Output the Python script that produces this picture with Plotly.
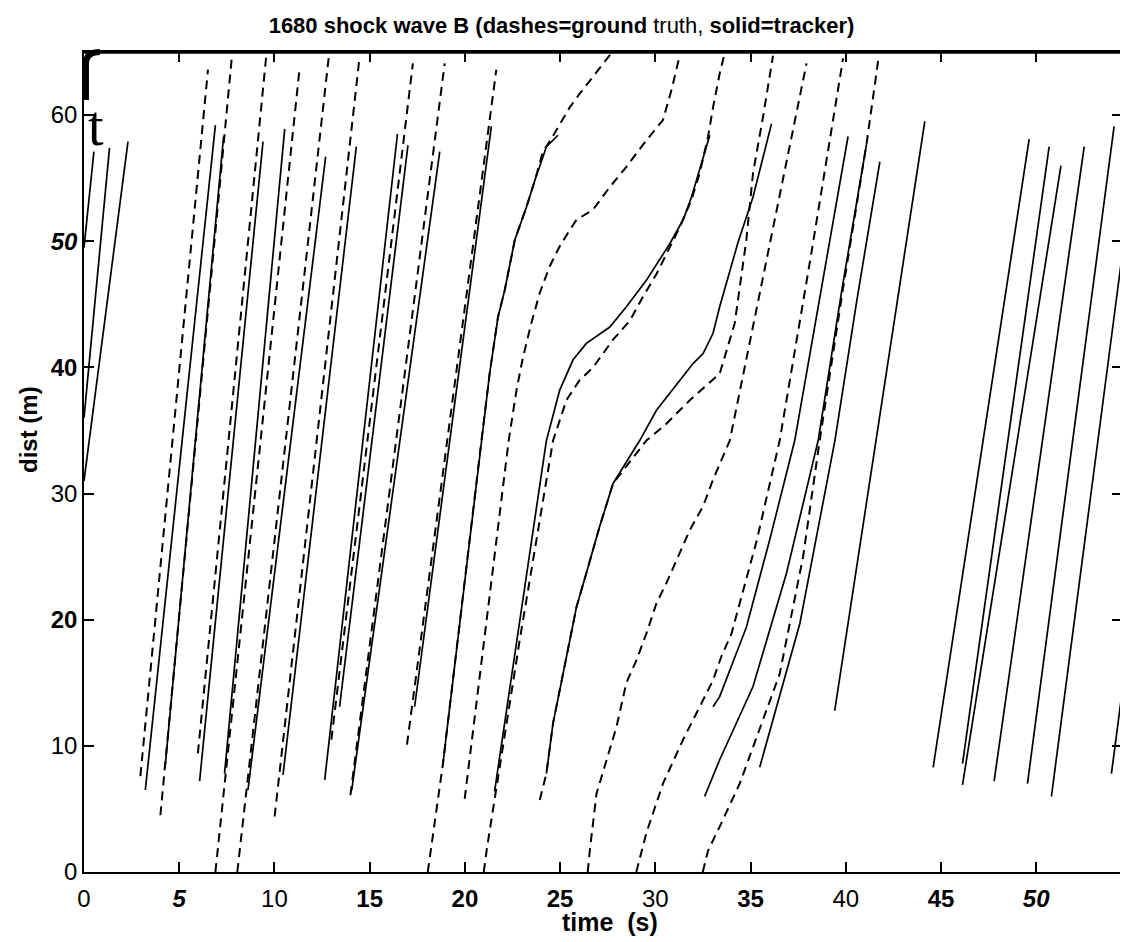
import plotly.graph_objects as go

# ---- text -------------------------------------------------------------
TITLE = "<b>1680 shock wave B (dashes=ground</b> truth, <b>solid=tracker)</b>"
X_LABEL = "<b>time  (s)</b>"
Y_LABEL = "<b>dist (m)</b>"

x_tick_vals = [0, 5, 10, 15, 20, 25, 30, 35, 40, 45, 50]
x_tick_text = ["0", "<b><i>5</i></b>", "10", "<b>15</b>", "<b>20</b>", "<b>25</b>",
               "30", "<b>35</b>", "40", "<b>45</b>", "<b><i>50</i></b>"]
y_tick_vals = [0, 10, 20, 30, 40, 50, 60]
y_tick_text = ["0", "10", "<b>20</b>", "30", "<b>40</b>", "<b><i>50</i></b>", "60"]

X_RANGE = [0, 54.4]
Y_RANGE = [0, 65]

# ---- tracker output (solid); each track is a list of (time s, dist m) ----
tracker_early = [
    [(0.0, 49.5), (0.52, 57.1)],
    [(0.0, 36.0), (1.34, 57.4)],
    [(0.0, 31.0), (2.31, 57.9)],
    [(3.22, 6.5), (6.90, 59.2)],
    [(4.27, 8.5), (7.33, 58.3)],
    [(6.07, 7.2), (9.40, 57.9)],
    [(7.38, 7.8), (10.54, 58.9)],
    [(8.61, 6.5), (12.69, 56.7)],
    [(10.45, 7.7), (14.30, 57.5)],
    [(12.64, 7.3), (16.46, 58.5)],
    [(13.42, 13.1), (17.01, 57.6)],
    [(14.06, 6.5), (18.68, 57.1)],
    [(17.36, 13.1), (21.39, 59.1)],
]

tracker_middle = [
    [(18.85, 8.6), (20.87, 34.2), (21.30, 39.5), (21.74, 44.0), (22.09, 46.1),
     (22.62, 50.1), (23.23, 52.7), (23.67, 54.8), (24.28, 57.5), (24.89, 58.4)],
    [(21.56, 6.4), (24.28, 34.2), (24.98, 38.2), (25.68, 40.6), (26.38, 41.9),
     (27.61, 43.2), (28.48, 44.8), (29.53, 46.9), (30.76, 49.8), (31.46, 51.7),
     (31.90, 53.5), (32.86, 58.4)],
    [(24.28, 7.8), (24.63, 11.8), (24.98, 14.4), (25.33, 17.1), (25.86, 21.0),
     (26.38, 23.7), (27.08, 27.4), (27.78, 30.8), (29.18, 34.2), (30.06, 36.6),
     (31.28, 39.0), (31.98, 40.3), (32.51, 41.1), (33.03, 42.7), (33.38, 44.8),
     (34.34, 49.9), (35.13, 53.5), (36.10, 59.3)],
    [(33.03, 13.1), (33.38, 13.9), (34.78, 19.4), (36.00, 26.3), (37.32, 34.2),
     (38.72, 46.1), (40.12, 58.3)],
    [(32.59, 6.0), (33.38, 8.9), (35.13, 14.7), (36.89, 23.7), (38.55, 34.2),
     (39.79, 46.1), (41.09, 57.7)],
    [(35.48, 8.3), (37.59, 19.7), (39.43, 34.2), (40.58, 45.3), (41.79, 56.3)],
]

tracker_late = [
    [(39.42, 12.8), (44.15, 59.5)],
    [(44.59, 8.3), (49.63, 58.1)],
    [(46.13, 8.6), (50.68, 57.5)],
    [(46.13, 6.9), (51.30, 56.0)],
    [(47.79, 7.2), (52.52, 57.5)],
    [(49.54, 7.0), (54.09, 59.1)],
    [(50.80, 6.0), (55.30, 58.0)],
    [(53.95, 7.8), (58.30, 58.0)],
]

# ---- ground truth (dashed) -------------------------------------------
truth_early = [
    [(2.96, 7.6), (6.51, 63.6)],
    [(4.01, 4.5), (7.77, 64.7)],
    [(5.98, 9.4), (9.57, 64.7)],
    [(6.90, 0.0), (11.32, 63.7)],
    [(8.05, 0.0), (12.86, 64.7)],
    [(10.01, 4.4), (14.47, 64.6)],
    [(12.99, 10.5), (17.27, 64.1)],
    [(13.99, 6.1), (18.94, 64.1)],
    [(16.96, 10.1), (21.65, 63.6)],
]

truth_middle = [
    [(18.05, 0.0), (18.85, 8.6), (20.87, 34.2), (21.30, 39.5), (21.74, 44.0),
     (22.09, 46.1), (22.62, 50.1), (23.23, 52.7), (23.67, 54.8), (24.10, 57.1),
     (24.45, 57.9), (24.98, 59.3), (25.50, 60.6), (26.03, 61.7), (26.72, 63.0),
     (27.69, 64.9)],
    [(19.99, 5.8), (22.30, 34.2), (22.71, 38.2), (23.05, 40.8), (23.49, 43.5),
     (23.93, 45.9), (24.45, 48.0), (24.98, 49.6), (25.51, 50.9), (25.86, 51.7),
     (26.73, 52.5), (27.61, 54.3), (28.48, 55.9), (29.53, 58.0), (30.40, 59.6),
     (30.85, 62.0), (31.28, 64.7)],
    [(20.99, 0.0), (21.16, 1.9), (22.88, 18.4), (24.63, 34.2), (25.33, 37.4),
     (26.03, 39.0), (26.73, 40.0), (27.78, 42.2), (28.66, 43.7), (29.35, 45.6),
     (30.06, 47.4), (30.76, 49.6), (31.28, 51.1), (31.90, 53.3), (32.33, 55.4),
     (32.77, 58.3), (33.03, 60.6), (33.38, 63.3), (33.64, 64.9)],
    [(23.93, 5.7), (24.28, 7.8), (24.63, 11.8), (24.98, 14.4), (25.33, 17.1),
     (25.86, 21.0), (26.38, 23.7), (27.08, 27.4), (27.78, 30.8), (29.53, 34.2),
     (30.49, 35.4), (31.81, 37.4), (33.38, 39.5), (34.17, 43.5), (34.78, 50.1),
     (35.13, 55.4), (35.66, 59.9), (36.18, 64.7)],
    [(26.45, 0.0), (26.56, 1.7), (26.91, 6.2), (27.43, 8.9), (27.96, 11.5),
     (28.48, 15.0), (29.01, 16.8), (29.53, 18.9), (30.06, 21.3), (30.58, 22.9),
     (31.11, 24.7), (31.81, 27.1), (32.51, 29.0), (33.03, 31.1), (33.91, 34.2),
     (35.96, 49.3), (37.94, 64.1)],
    [(29.00, 0.0), (29.53, 3.1), (30.40, 7.0), (31.46, 10.5), (32.33, 13.1),
     (33.03, 15.2), (33.47, 17.1), (34.00, 18.9), (35.33, 26.3), (36.53, 34.2),
     (38.22, 49.3), (39.86, 64.5)],
    [(32.49, 0.0), (32.77, 1.7), (33.38, 3.6), (34.43, 7.0), (36.53, 15.7),
     (37.76, 25.0), (38.63, 34.2), (39.84, 46.1), (41.09, 57.7), (41.70, 64.3)],
]


def joined(tracks):
    """Concatenate tracks into one x/y pair separated by gaps."""
    xs, ys = [], []
    for track in tracks:
        for t, d in track:
            xs.append(t)
            ys.append(d)
        xs.append(None)
        ys.append(None)
    return xs, ys


fig = go.Figure()

solid_x, solid_y = joined(tracker_early + tracker_middle + tracker_late)
fig.add_trace(go.Scatter(x=solid_x, y=solid_y, mode="lines", name="tracker",
                         line=dict(color="black", width=1.7),
                         showlegend=False, hoverinfo="skip"))

dash_x, dash_y = joined(truth_early + truth_middle)
fig.add_trace(go.Scatter(x=dash_x, y=dash_y, mode="lines", name="ground truth",
                         line=dict(color="black", width=2.0, dash="9px,6px"),
                         showlegend=False, hoverinfo="skip"))

# holder trace so the right-hand tick axis is drawn
fig.add_trace(go.Scatter(x=[None], y=[None], yaxis="y2", showlegend=False,
                         hoverinfo="skip"))

tick_font = dict(family="Liberation Sans, Arial, sans-serif", size=24, color="black")

fig.update_layout(
    width=1123, height=942,
    margin=dict(l=84, r=3, t=52, b=70),
    paper_bgcolor="white", plot_bgcolor="white",
    title=dict(text=TITLE, x=0.5, xref="container", xanchor="center",
               y=1 - 25 / 942, yref="container", yanchor="middle",
               font=dict(family="Liberation Sans Narrow, Arial Narrow, Liberation Sans, sans-serif",
                         size=22, color="black")),
    xaxis=dict(range=X_RANGE, tickvals=x_tick_vals, ticktext=x_tick_text,
               ticks="inside", ticklen=10, tickwidth=1.5, tickcolor="black",
               showline=True, linewidth=2, linecolor="black", mirror="ticks",
               showgrid=False, zeroline=False, tickfont=tick_font,
               ticklabelstandoff=4),
    yaxis=dict(range=Y_RANGE, tickvals=y_tick_vals, ticktext=y_tick_text,
               ticks="inside", ticklen=10, tickwidth=1.5, tickcolor="black",
               showline=True, linewidth=1.5, linecolor="black",
               showgrid=False, zeroline=False, tickfont=tick_font),
    yaxis2=dict(range=Y_RANGE, tickvals=y_tick_vals, overlaying="y", side="right",
                anchor="x", ticks="inside", ticklen=8, tickwidth=2, tickcolor="black",
                showticklabels=False, showline=False, showgrid=False, zeroline=False),
    shapes=[
        dict(type="line", xref="paper", yref="paper", x0=0, x1=1, y0=1, y1=1,
             line=dict(color="black", width=3.5)),
        # heavy ink stroke at the upper-left corner of the frame
        dict(type="path", xref="paper", yref="paper",
             path="M 0.0019,0.9415 L 0.0019,0.9878 Q 0.0029,1.0 0.0154,1.0",
             line=dict(color="black", width=6)),
    ],
    annotations=[
        dict(text=X_LABEL, xref="paper", yref="paper", x=0.508, y=0, yshift=-50,
             showarrow=False, xanchor="center", yanchor="middle",
             font=dict(family="Liberation Sans, Arial, sans-serif", size=25, color="black")),
        dict(text=Y_LABEL, xref="paper", yref="paper", x=0, y=0.539, xshift=-56,
             showarrow=False, textangle=-90, xanchor="center", yanchor="middle",
             font=dict(family="Liberation Sans, Arial, sans-serif", size=24, color="black")),
        dict(text="t", xref="paper", yref="paper", x=0, y=1, xshift=2, yshift=-74,
             showarrow=False, xanchor="left", yanchor="middle",
             font=dict(family="Liberation Serif, DejaVu Serif, serif", size=56, color="black")),
    ],
)

fig.write_html("out.html")
